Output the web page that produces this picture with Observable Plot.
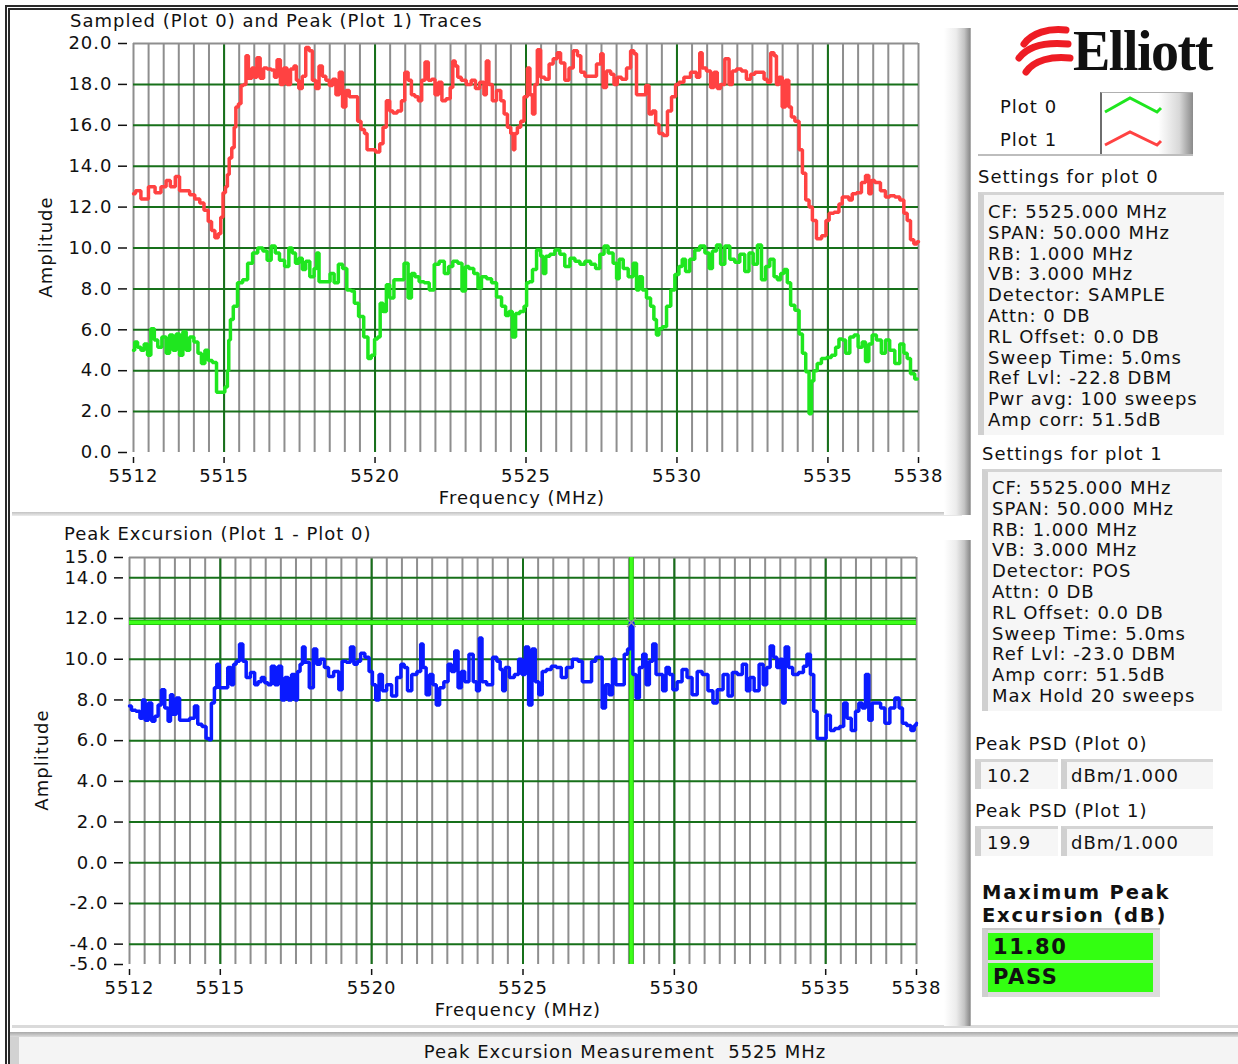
<!DOCTYPE html>
<html><head><meta charset="utf-8">
<script src="https://cdn.jsdelivr.net/npm/d3@7"></script>
<script src="https://cdn.jsdelivr.net/npm/@observablehq/plot@0.6"></script>
<style>
html,body{margin:0;padding:0;background:#fff;}
#root{position:relative;width:1238px;height:1064px;overflow:hidden;font-family:"DejaVu Sans",sans-serif;font-size:18px;letter-spacing:1px;color:#111;}
.abs{position:absolute;white-space:nowrap;line-height:20px;}
.rot{transform:translate(-50%,-50%) rotate(-90deg);}
.ctr{transform:translate(-50%,0);}
.bar{position:absolute;background:linear-gradient(to right,#ffffff 0%,#ececec 45%,#c4c4c4 75%,#8e8e8e 95%,#bdbdbd 100%);}
.box{position:absolute;background:#f6f6f6;border-top:3px solid #d4d4d4;border-left:6px solid #d0d0d0;box-sizing:border-box;}
.lines div{height:20.8px;line-height:20.8px;white-space:nowrap;}
.green{position:absolute;background:#33ff11;font-weight:bold;font-size:21px;letter-spacing:1.6px;line-height:28px;padding-left:5px;box-sizing:border-box;}
</style></head>
<body><div id="root"></div>
<script>
// ---------------- data ----------------
const freqTicks = [5512, 5515, 5520, 5525, 5530, 5535, 5538];
const majorFreqGrid = [5515, 5520, 5525, 5530, 5535];
const topAmpTicks = [0, 2, 4, 6, 8, 10, 12, 14, 16, 18, 20];
const bottomAmpTicks = [-5, -4, -2, 0, 2, 4, 6, 8, 10, 12, 14, 15];

// Plot 1 (peak, red) [MHz, amplitude]
const plot1Trace = [[5512.00,12.65],[5512.13,12.8],[5512.36,12.4],[5512.63,13.0],[5512.80,12.7],[5513.02,13.0],[5513.14,13.3],[5513.30,13.0],[5513.47,13.5],[5513.58,12.8],[5513.80,12.8],[5513.92,12.6],[5514.14,12.4],[5514.25,12.2],[5514.42,11.85],[5514.53,11.3],[5514.64,10.85],[5514.75,10.5],[5514.86,10.7],[5514.92,11.5],[5515.01,12.7],[5515.08,13.0],[5515.14,13.6],[5515.20,14.4],[5515.31,14.9],[5515.36,15.9],[5515.42,16.9],[5515.53,17.05],[5515.59,17.95],[5515.70,18.0],[5515.75,19.4],[5515.86,18.3],[5515.98,18.8],[5516.03,18.35],[5516.14,19.3],[5516.25,18.3],[5516.37,18.8],[5516.48,18.75],[5516.64,18.7],[5516.70,18.35],[5516.81,19.2],[5516.92,18.0],[5517.03,18.8],[5517.14,18.0],[5517.26,18.75],[5517.37,18.9],[5517.42,18.2],[5517.53,17.8],[5517.65,18.4],[5517.76,19.8],[5517.87,19.65],[5517.98,18.2],[5518.09,17.8],[5518.20,18.9],[5518.31,18.4],[5518.43,18.2],[5518.54,17.95],[5518.65,18.25],[5518.76,17.5],[5518.87,18.6],[5518.98,16.9],[5519.09,17.7],[5519.20,17.4],[5519.37,17.4],[5519.48,16.2],[5519.59,15.8],[5519.71,15.6],[5519.76,14.8],[5519.93,14.8],[5520.10,14.7],[5520.21,15.1],[5520.32,15.9],[5520.43,17.2],[5520.54,16.7],[5520.65,16.6],[5520.82,16.7],[5520.93,17.2],[5521.04,18.6],[5521.15,18.2],[5521.26,17.5],[5521.38,17.4],[5521.49,17.2],[5521.60,18.2],[5521.71,19.1],[5521.82,18.2],[5521.93,18.25],[5522.04,17.5],[5522.16,18.1],[5522.27,17.2],[5522.43,17.3],[5522.55,17.85],[5522.60,19.15],[5522.71,18.9],[5522.77,18.35],[5522.94,18.2],[5523.10,18.0],[5523.27,18.2],[5523.38,17.8],[5523.55,18.1],[5523.66,17.5],[5523.71,19.15],[5523.83,18.0],[5523.94,17.2],[5524.11,17.7],[5524.22,17.2],[5524.33,16.55],[5524.44,15.9],[5524.55,15.6],[5524.60,14.8],[5524.66,15.6],[5524.77,15.9],[5524.88,16.2],[5524.99,17.4],[5525.10,18.8],[5525.16,17.5],[5525.27,16.55],[5525.32,18.0],[5525.43,19.7],[5525.54,18.35],[5525.71,18.25],[5525.82,19.0],[5525.98,19.25],[5526.09,19.55],[5526.20,19.05],[5526.37,18.2],[5526.48,18.8],[5526.65,19.65],[5526.76,19.4],[5526.87,18.6],[5527.03,18.4],[5527.25,18.4],[5527.42,19.0],[5527.53,19.5],[5527.58,17.85],[5527.75,18.65],[5527.86,18.5],[5527.97,18.0],[5528.08,18.35],[5528.25,18.25],[5528.41,18.8],[5528.52,19.65],[5528.63,19.5],[5528.69,17.5],[5528.91,17.5],[5529.02,17.95],[5529.13,16.55],[5529.24,16.7],[5529.35,16.05],[5529.46,15.6],[5529.63,15.5],[5529.74,16.7],[5529.90,17.4],[5530.01,18.0],[5530.12,18.1],[5530.34,18.35],[5530.56,18.6],[5530.73,18.35],[5530.78,19.55],[5530.89,18.8],[5531.06,18.65],[5531.17,17.85],[5531.28,18.6],[5531.39,17.8],[5531.50,18.0],[5531.67,19.25],[5531.78,18.0],[5531.89,18.65],[5532.05,18.75],[5532.22,18.65],[5532.38,18.25],[5532.50,18.5],[5532.66,18.6],[5532.83,18.6],[5532.94,18.25],[5533.05,18.1],[5533.16,19.55],[5533.27,19.4],[5533.32,18.0],[5533.43,18.35],[5533.54,16.9],[5533.65,18.2],[5533.76,16.9],[5533.82,16.4],[5533.99,16.2],[5534.10,14.8],[5534.21,13.65],[5534.32,12.35],[5534.43,12.0],[5534.54,11.35],[5534.70,10.45],[5534.88,10.6],[5534.99,11.35],[5535.09,11.7],[5535.31,11.75],[5535.42,12.15],[5535.53,12.5],[5535.64,12.5],[5535.75,12.35],[5535.86,12.65],[5536.03,12.7],[5536.19,13.2],[5536.30,13.55],[5536.41,12.65],[5536.47,13.3],[5536.63,13.2],[5536.85,12.8],[5536.96,12.5],[5537.13,12.55],[5537.30,12.5],[5537.46,12.35],[5537.57,11.7],[5537.68,11.35],[5537.79,10.4],[5537.90,10.2],[5538.00,10.3]];

// Plot 0 (sampled, green) [MHz, amplitude]
const plot0Trace = [[5512.00,5.0],[5512.08,5.4],[5512.19,5.15],[5512.30,5.0],[5512.41,5.3],[5512.52,4.75],[5512.63,6.05],[5512.75,5.5],[5512.86,5.15],[5513.02,5.65],[5513.14,4.85],[5513.25,5.75],[5513.36,5.0],[5513.47,5.8],[5513.58,4.75],[5513.69,5.9],[5513.80,5.0],[5513.92,5.65],[5514.08,5.4],[5514.19,4.85],[5514.31,4.35],[5514.42,5.0],[5514.53,4.5],[5514.69,4.4],[5514.81,2.95],[5514.97,2.95],[5515.08,3.2],[5515.14,4.0],[5515.17,5.5],[5515.25,6.5],[5515.36,7.15],[5515.53,8.3],[5515.70,8.45],[5515.86,9.25],[5516.03,9.75],[5516.20,10.0],[5516.37,9.85],[5516.48,9.4],[5516.64,10.1],[5516.75,9.75],[5516.92,9.4],[5517.09,9.1],[5517.20,10.0],[5517.31,9.75],[5517.42,9.25],[5517.53,9.5],[5517.65,8.95],[5517.76,9.35],[5517.92,8.6],[5518.04,9.0],[5518.09,9.75],[5518.20,8.35],[5518.43,8.35],[5518.59,8.75],[5518.70,8.3],[5518.87,9.2],[5518.98,9.0],[5519.15,7.95],[5519.26,7.9],[5519.37,7.3],[5519.54,6.65],[5519.71,5.65],[5519.82,4.6],[5519.93,4.75],[5520.04,5.55],[5520.13,5.65],[5520.21,7.3],[5520.32,6.9],[5520.43,8.2],[5520.54,7.55],[5520.71,8.45],[5520.88,8.45],[5521.04,9.25],[5521.15,7.55],[5521.26,8.75],[5521.38,8.6],[5521.54,8.35],[5521.71,8.3],[5521.88,7.95],[5522.04,9.2],[5522.21,9.35],[5522.38,8.75],[5522.49,9.1],[5522.66,9.35],[5522.82,9.25],[5522.94,7.9],[5523.05,9.1],[5523.16,9.0],[5523.38,8.75],[5523.44,8.05],[5523.61,8.6],[5523.78,8.5],[5523.94,8.3],[5524.11,7.6],[5524.27,7.15],[5524.38,6.7],[5524.49,6.9],[5524.60,5.65],[5524.71,6.8],[5524.88,6.9],[5524.99,7.15],[5525.05,8.3],[5525.16,8.35],[5525.27,8.95],[5525.43,9.9],[5525.54,9.6],[5525.60,8.75],[5525.71,9.6],[5525.87,9.7],[5526.04,9.9],[5526.20,9.7],[5526.37,9.1],[5526.54,9.5],[5526.70,9.35],[5526.87,9.2],[5527.03,9.35],[5527.25,9.2],[5527.36,9.0],[5527.53,9.7],[5527.64,10.1],[5527.80,9.75],[5527.97,9.25],[5528.03,8.5],[5528.14,9.45],[5528.30,9.0],[5528.47,8.6],[5528.63,9.25],[5528.69,7.95],[5528.80,8.6],[5528.91,7.95],[5529.07,7.55],[5529.18,7.15],[5529.29,6.5],[5529.35,5.75],[5529.46,6.05],[5529.57,6.15],[5529.74,7.15],[5529.85,7.95],[5530.01,8.7],[5530.12,9.1],[5530.23,9.45],[5530.34,8.85],[5530.51,9.45],[5530.67,9.9],[5530.84,10.1],[5531.01,9.75],[5531.12,9.0],[5531.23,9.85],[5531.39,10.15],[5531.50,9.2],[5531.67,10.1],[5531.83,9.45],[5532.00,9.3],[5532.16,9.7],[5532.33,8.85],[5532.44,9.75],[5532.61,9.2],[5532.72,10.15],[5532.88,8.45],[5532.99,9.1],[5533.16,9.45],[5533.27,8.6],[5533.38,8.45],[5533.49,8.75],[5533.60,8.95],[5533.71,8.3],[5533.82,7.2],[5533.99,6.95],[5534.10,5.8],[5534.21,4.85],[5534.32,3.95],[5534.43,1.9],[5534.48,3.5],[5534.59,4.0],[5534.70,4.35],[5534.87,4.6],[5535.03,4.65],[5535.20,4.75],[5535.31,5.15],[5535.42,5.55],[5535.53,5.5],[5535.64,4.85],[5535.81,5.65],[5535.92,5.75],[5536.08,5.15],[5536.19,5.4],[5536.30,4.45],[5536.41,5.3],[5536.52,5.75],[5536.69,5.5],[5536.85,4.85],[5536.96,5.5],[5537.13,5.0],[5537.30,4.35],[5537.46,5.3],[5537.57,4.85],[5537.68,4.6],[5537.79,3.85],[5537.96,3.6]];

// Peak excursion (Plot 1 - Plot 0, blue) [MHz, dB]
const excursionTrace = [[5512.00,7.7],[5512.13,7.5],[5512.29,7.45],[5512.40,7.1],[5512.46,8.0],[5512.57,7.0],[5512.68,7.85],[5512.79,6.95],[5512.89,7.2],[5513.00,7.75],[5513.11,8.5],[5513.22,7.6],[5513.33,6.95],[5513.38,8.25],[5513.49,7.3],[5513.60,8.1],[5513.71,7.0],[5513.88,7.0],[5514.09,7.1],[5514.20,7.7],[5514.31,6.8],[5514.48,6.7],[5514.58,6.1],[5514.66,6.05],[5514.75,7.85],[5514.86,8.6],[5514.91,9.75],[5515.02,8.6],[5515.19,8.6],[5515.30,9.6],[5515.41,8.75],[5515.47,9.75],[5515.58,9.9],[5515.69,10.75],[5515.80,9.9],[5515.91,9.1],[5516.08,9.35],[5516.19,8.75],[5516.30,8.9],[5516.41,9.1],[5516.52,8.85],[5516.63,8.75],[5516.74,9.65],[5516.86,8.75],[5516.97,9.65],[5517.08,8.0],[5517.19,9.1],[5517.30,8.0],[5517.41,9.25],[5517.52,8.0],[5517.58,9.4],[5517.69,9.75],[5517.74,10.6],[5517.86,9.85],[5518.02,8.6],[5518.13,10.5],[5518.24,9.75],[5518.36,10.0],[5518.52,9.6],[5518.63,9.15],[5518.86,9.4],[5518.97,8.5],[5519.08,9.9],[5519.24,9.85],[5519.36,10.6],[5519.47,9.75],[5519.58,9.9],[5519.69,10.3],[5519.86,10.1],[5519.97,9.4],[5520.08,8.75],[5520.19,8.0],[5520.30,9.25],[5520.41,8.45],[5520.58,8.75],[5520.74,8.2],[5520.91,9.1],[5521.02,9.75],[5521.13,9.6],[5521.24,8.45],[5521.41,9.25],[5521.58,9.4],[5521.66,10.75],[5521.74,9.6],[5521.86,8.25],[5521.97,9.25],[5522.08,8.75],[5522.19,7.75],[5522.30,8.6],[5522.47,8.9],[5522.58,9.75],[5522.69,9.4],[5522.80,10.4],[5522.91,8.6],[5523.02,9.4],[5523.13,8.9],[5523.30,10.25],[5523.41,8.9],[5523.52,8.45],[5523.60,11.05],[5523.69,8.9],[5523.91,8.75],[5524.08,10.1],[5524.19,9.9],[5524.30,9.5],[5524.36,8.45],[5524.47,9.6],[5524.63,9.1],[5524.80,9.25],[5524.91,10.0],[5525.02,9.25],[5525.13,10.6],[5525.24,7.75],[5525.35,10.5],[5525.46,8.9],[5525.58,8.25],[5525.69,9.4],[5525.85,9.5],[5526.02,9.65],[5526.18,9.6],[5526.35,9.1],[5526.52,9.6],[5526.74,10.0],[5526.90,9.9],[5527.02,8.9],[5527.18,8.9],[5527.35,9.9],[5527.46,10.1],[5527.57,10.1],[5527.66,7.6],[5527.79,8.75],[5527.90,8.25],[5528.01,10.0],[5528.12,8.75],[5528.29,8.75],[5528.40,10.25],[5528.51,10.5],[5528.58,11.8],[5528.68,9.25],[5528.79,8.1],[5528.90,9.6],[5529.01,10.25],[5529.12,8.75],[5529.23,9.9],[5529.34,10.75],[5529.45,9.25],[5529.56,9.25],[5529.67,8.45],[5529.78,9.6],[5529.89,9.25],[5530.01,8.5],[5530.17,8.9],[5530.34,9.5],[5530.50,9.1],[5530.67,8.25],[5530.84,9.4],[5531.00,9.25],[5531.22,8.45],[5531.33,7.85],[5531.50,8.5],[5531.72,9.25],[5531.83,8.2],[5532.00,9.35],[5532.16,9.25],[5532.33,9.75],[5532.44,8.45],[5532.55,9.1],[5532.72,8.45],[5532.88,9.75],[5532.99,8.75],[5533.11,9.6],[5533.22,10.65],[5533.33,10.1],[5533.44,9.6],[5533.55,10.0],[5533.60,7.85],[5533.72,10.6],[5533.83,9.6],[5533.99,9.25],[5534.21,9.35],[5534.32,9.65],[5534.44,10.25],[5534.55,9.25],[5534.66,7.45],[5534.77,6.1],[5534.93,6.1],[5535.10,7.25],[5535.21,6.5],[5535.38,6.6],[5535.54,6.7],[5535.65,7.85],[5535.76,7.1],[5535.93,6.5],[5536.04,7.45],[5536.15,7.85],[5536.26,7.6],[5536.37,9.25],[5536.48,7.0],[5536.59,7.85],[5536.76,7.85],[5536.87,7.6],[5537.04,6.85],[5537.20,7.6],[5537.37,8.1],[5537.48,7.6],[5537.59,6.85],[5537.76,6.75],[5537.87,6.5],[5537.98,6.75],[5538.00,6.85]];

const limitLine = [11.8];
const cursorFreq = [5528.58];

const settingsPlot0 = ["CF: 5525.000 MHz","SPAN: 50.000 MHz","RB: 1.000 MHz","VB: 3.000 MHz","Detector: SAMPLE","Attn: 0 DB","RL Offset: 0.0 DB","Sweep Time: 5.0ms","Ref Lvl: -22.8 DBM","Pwr avg: 100 sweeps","Amp corr: 51.5dB"];
const settingsPlot1 = ["CF: 5525.000 MHz","SPAN: 50.000 MHz","RB: 1.000 MHz","VB: 3.000 MHz","Detector: POS","Attn: 0 DB","RL Offset: 0.0 DB","Sweep Time: 5.0ms","Ref Lvl: -23.0 DBM","Amp corr: 51.5dB","Max Hold 20 sweeps"];
const peakPSD0 = "10.2", peakPSD1 = "19.9", psdUnit = "dBm/1.000";
const maxExcursion = "11.80", verdict = "PASS";

// ---------------- drawing ----------------
const root = document.getElementById("root");
function add(html){ root.insertAdjacentHTML("beforeend", html); }

const minorFreqGrid = d3.range(5512, 5538.001, 0.5);
const GRID_GREEN = "#17701a", GRID_GRAY = "#8e8e8e";
const fmt1 = d => d.toFixed(1);
const plotStyle = {fontFamily: '"DejaVu Sans", sans-serif', fontSize: "18px", letterSpacing: "1px", color: "#111", background: "transparent", overflow: "visible"};

function gridMarks(hLines, topVal){
  return [
    Plot.ruleX(minorFreqGrid, {stroke: GRID_GRAY, strokeWidth: 2}),
    Plot.ruleX(majorFreqGrid, {stroke: GRID_GREEN, strokeWidth: 2}),
    Plot.ruleY(hLines, {stroke: GRID_GREEN, strokeWidth: 2}),
    Plot.ruleY([topVal], {stroke: GRID_GRAY, strokeWidth: 2})
  ];
}
const traceOpts = (color) => ({x: d => d[0], y: d => d[1], stroke: color, strokeWidth: 3.5, curve: "step", strokeLinejoin: "miter"});

const topPlot = Plot.plot({
  width: 950, height: 500,
  marginLeft: 121, marginRight: 44, marginTop: 31, marginBottom: 60,
  style: plotStyle,
  x: {domain: [5512, 5538]},
  y: {domain: [0, 20]},
  marks: [
    ...gridMarks(topAmpTicks.filter(d => d > 0 && d < 20), 20),
    Plot.line(plot1Trace, traceOpts("#ff4242")),
    Plot.line(plot0Trace, traceOpts("#1fe61f")),
    Plot.axisY({ticks: topAmpTicks, tickFormat: fmt1, tickSize: 9, tickPadding: 6, dx: -6, strokeWidth: 1.5, label: null}),
    Plot.axisX({ticks: freqTicks, tickFormat: d => String(d), tickSize: 6, tickPadding: 6, dy: 5, strokeWidth: 1.5, label: null})
  ]
});

const bottomPlot = Plot.plot({
  width: 950, height: 507,
  marginLeft: 117, marginRight: 46, marginTop: 39, marginBottom: 61,
  style: plotStyle,
  x: {domain: [5512, 5538]},
  y: {domain: [-5, 15]},
  marks: [
    ...gridMarks(bottomAmpTicks.filter(d => d > -5 && d < 15), 15),
    Plot.ruleY(limitLine, {stroke: "#27c80f", strokeWidth: 5}),
    Plot.ruleY(limitLine, {stroke: "#3dff1a", strokeWidth: 3}),
    Plot.ruleX(cursorFreq, {stroke: "#27c80f", strokeWidth: 5}),
    Plot.ruleX(cursorFreq, {stroke: "#3dff1a", strokeWidth: 3}),
    Plot.line(excursionTrace, traceOpts("#0a1aff")),
    Plot.dot([[cursorFreq[0], limitLine[0]]], {x: d => d[0], y: d => d[1], symbol: "times", r: 4, stroke: "#9a9a9a", strokeWidth: 1.5}),
    Plot.axisY({ticks: bottomAmpTicks, tickFormat: fmt1, tickSize: 9, tickPadding: 6, dx: -6, strokeWidth: 1.5, label: null}),
    Plot.axisX({ticks: freqTicks, tickFormat: d => String(d), tickSize: 6, tickPadding: 6, dy: 5, strokeWidth: 1.5, label: null})
  ]
});

// outer frame
add(`<div class="abs" style="left:5px;top:5px;width:1260px;height:1100px;border-top:5px double #2a2a2a;border-left:5px double #2a2a2a;"></div>`);

// top chart
const w1 = document.createElement("div");
w1.style.cssText = "position:absolute;left:12px;top:12px;";
w1.appendChild(topPlot); root.appendChild(w1);
add(`<div class="abs" style="left:70px;top:11px;">Sampled (Plot 0) and Peak (Plot 1) Traces</div>`);
add(`<div class="abs rot" style="left:46px;top:247px;">Amplitude</div>`);
add(`<div class="abs ctr" style="left:522px;top:488px;">Frequency (MHz)</div>`);
add(`<div class="abs" style="left:12px;top:512px;width:950px;height:4px;background:linear-gradient(#c2c2c2,#ececec);"></div>`);

// bottom chart
const w2 = document.createElement("div");
w2.style.cssText = "position:absolute;left:12px;top:518px;";
w2.appendChild(bottomPlot); root.appendChild(w2);
add(`<div class="abs" style="left:64px;top:524px;">Peak Excursion (Plot 1 - Plot 0)</div>`);
add(`<div class="abs rot" style="left:42px;top:760px;">Amplitude</div>`);
add(`<div class="abs ctr" style="left:518px;top:1000px;">Frequency (MHz)</div>`);
add(`<div class="abs" style="left:12px;top:1025px;width:1230px;height:3px;background:#dadada;"></div>`);

// vertical bevel bars
add(`<div class="bar" style="left:944px;top:28px;width:27px;height:487px;"></div>`);
add(`<div class="bar" style="left:944px;top:540px;width:27px;height:486px;"></div>`);

// status bar
add(`<div class="abs" style="left:10px;top:1032px;width:1230px;height:5px;background:linear-gradient(#a8a8a8,#dcdcdc);"></div>`);
add(`<div class="abs" style="left:10px;top:1037px;width:1230px;height:30px;background:#f4f4f4;border-left:9px solid #d2d2d2;box-sizing:border-box;"></div>`);
add(`<div class="abs ctr" style="left:625px;top:1042px;">Peak Excursion Measurement&nbsp; 5525 MHz</div>`);

// logo
add(`<svg class="abs" style="left:1010px;top:20px;overflow:visible" width="225" height="65">
  <g fill="none" stroke="#ee1c24" stroke-linecap="round">
    <path d="M14,24 C22,13 38,8 56,10" stroke-width="7"/>
    <path d="M9,38 C18,26 36,22 58,24" stroke-width="7"/>
    <path d="M16,52 C24,40 42,36 60,38" stroke-width="7"/>
  </g>
  <text x="63" y="50" font-family="Liberation Serif, serif" font-weight="bold" font-size="56" letter-spacing="-1.5" fill="#111">Elliott</text>
</svg>`);

// legend
add(`<div class="abs" style="left:1000px;top:97px;">Plot 0</div>`);
add(`<div class="abs" style="left:1000px;top:130px;">Plot 1</div>`);
add(`<div class="abs" style="left:1100px;top:92px;width:93px;height:63px;border-left:2px solid #6e6e6e;border-top:1px solid #b0b0b0;box-sizing:border-box;background:linear-gradient(to right,#fff 0%,#fff 62%,#d8d8d8 85%,#8a8a8a 100%);"></div>`);
add(`<div class="abs" style="left:978px;top:154px;width:215px;height:2px;background:#bdbdbd;"></div>`);
add(`<svg class="abs" style="left:1100px;top:90px" width="70" height="70">
  <polyline points="5,22 30,8 57,22 61,18" fill="none" stroke="#1fe61f" stroke-width="3"/>
  <polyline points="5,55 30,42 57,55 61,51" fill="none" stroke="#ff4242" stroke-width="3"/>
</svg>`);

// settings
add(`<div class="abs" style="left:978px;top:167px;">Settings for plot 0</div>`);
add(`<div class="box lines" style="left:978px;top:192px;width:246px;height:243px;padding:7px 0 0 4px;">${settingsPlot0.map(s => `<div>${s}</div>`).join("")}</div>`);
add(`<div class="abs" style="left:982px;top:444px;">Settings for plot 1</div>`);
add(`<div class="box lines" style="left:982px;top:469px;width:240px;height:242px;padding:6px 0 0 4px;">${settingsPlot1.map(s => `<div>${s}</div>`).join("")}</div>`);

// Peak PSD
function psd(label, y, val){
  add(`<div class="abs" style="left:975px;top:${y}px;">${label}</div>`);
  add(`<div class="box" style="left:975px;top:${y+25}px;width:83px;height:30px;padding:3px 0 0 6px;line-height:22px;">${val}</div>`);
  add(`<div class="box" style="left:1061px;top:${y+25}px;width:152px;height:30px;padding:3px 0 0 4px;line-height:22px;">${psdUnit}</div>`);
}
psd("Peak PSD (Plot 0)", 734, peakPSD0);
psd("Peak PSD (Plot 1)", 801, peakPSD1);

// Maximum peak excursion
add(`<div class="abs" style="left:982px;top:881px;font-weight:bold;font-size:19.5px;letter-spacing:1.8px;line-height:23px;">Maximum Peak<br>Excursion (dB)</div>`);
add(`<div class="abs" style="left:982px;top:928px;width:178px;height:69px;background:#dcdcdc;border-top:2px solid #c8c8c8;border-left:6px solid #cfcfcf;box-sizing:border-box;"></div>`);
add(`<div class="green" style="left:988px;top:933px;width:165px;height:27px;">${maxExcursion}</div>`);
add(`<div class="green" style="left:988px;top:963px;width:165px;height:29px;">${verdict}</div>`);
</script>
</body></html>
